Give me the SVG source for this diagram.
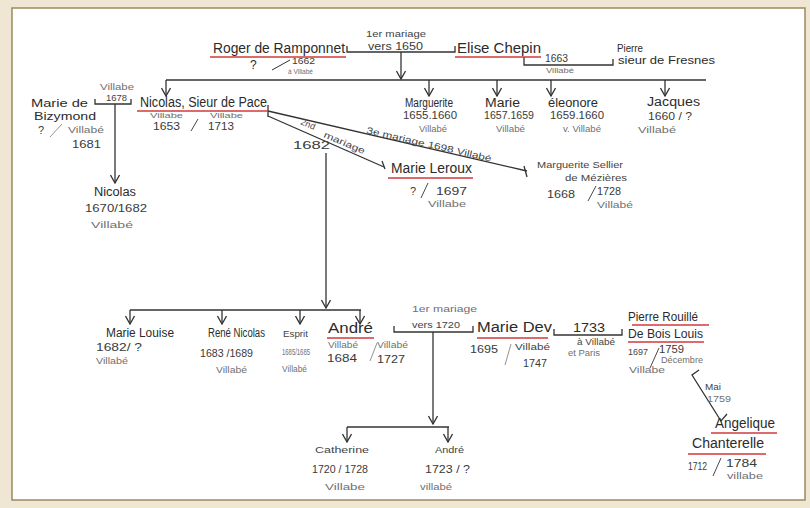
<svg xmlns="http://www.w3.org/2000/svg" width="810" height="508" viewBox="0 0 810 508">
<style>
text{font-family:"Liberation Sans","DejaVu Sans",sans-serif;fill:#2b2b2b}
.n{font-size:14px}
.m{font-size:12px}
.d{font-size:11px;fill:#3a3a3a}
.s{font-size:8.5px;fill:#707070}
.t{font-size:9px;fill:#444}
.ln{fill:none;stroke:#333;stroke-width:1.3}
.red{stroke:#d23a3a;stroke-width:1.6;fill:none}
.ar{fill:none;stroke:#333;stroke-width:1.3}
</style>
<defs>
<marker id="arr" viewBox="0 0 10 10" refX="9" refY="5" markerWidth="10" markerHeight="10" markerUnits="userSpaceOnUse" orient="auto">
<path d="M1,0.5 L9,5 L1,9.5" class="ar"/>
</marker>
</defs>
<rect x="0" y="0" width="810" height="508" fill="#efe6d4"/>
<rect x="12" y="8" width="793" height="492" fill="#ffffff" stroke="#9c8a5a" stroke-width="1.5"/>

<g id="connectors">
<polyline class="ln" points="347,46 347,52 455,52 455,46"/>
<line class="ln" x1="401" y1="52" x2="401" y2="79" marker-end="url(#arr)"/>
<polyline class="ln" points="524,57 524,65 613,65 613,59"/>
<line class="ln" x1="166" y1="80" x2="706" y2="80"/>
<line class="ln" x1="166" y1="80" x2="166" y2="96" marker-end="url(#arr)"/>
<line class="ln" x1="429" y1="80" x2="429" y2="96" marker-end="url(#arr)"/>
<line class="ln" x1="497" y1="80" x2="497" y2="96" marker-end="url(#arr)"/>
<line class="ln" x1="551" y1="80" x2="551" y2="96" marker-end="url(#arr)"/>
<line class="ln" x1="665" y1="80" x2="665" y2="96" marker-end="url(#arr)"/>
<polyline class="ln" points="95,99 95,104 131,104 131,99"/>
<line class="ln" x1="115" y1="104" x2="115" y2="183" marker-end="url(#arr)"/>
<line class="ln" x1="268" y1="105" x2="268" y2="117"/>
<line class="ln" x1="268" y1="111" x2="527" y2="171"/>
<line class="ln" x1="524" y1="166" x2="527" y2="177"/>
<line class="ln" x1="268" y1="116" x2="384" y2="167"/>
<line class="ln" x1="382" y1="161" x2="385" y2="169"/>
<line class="ln" x1="326" y1="153" x2="326" y2="308" marker-end="url(#arr)"/>
<line class="ln" x1="130" y1="310" x2="361" y2="310"/>
<line class="ln" x1="130" y1="310" x2="130" y2="324" marker-end="url(#arr)"/>
<line class="ln" x1="222" y1="310" x2="222" y2="324" marker-end="url(#arr)"/>
<line class="ln" x1="300" y1="310" x2="300" y2="324" marker-end="url(#arr)"/>
<line class="ln" x1="360" y1="310" x2="360" y2="324" marker-end="url(#arr)"/>
<polyline class="ln" points="394,326 394,332 473,332 473,326"/>
<line class="ln" x1="433" y1="332" x2="433" y2="424" marker-end="url(#arr)"/>
<line class="ln" x1="347" y1="427" x2="449" y2="427"/>
<line class="ln" x1="347" y1="427" x2="347" y2="442" marker-end="url(#arr)"/>
<line class="ln" x1="448" y1="427" x2="448" y2="442" marker-end="url(#arr)"/>
<polyline class="ln" points="554,329 554,335 622,335 622,329"/>
<polyline class="ln" points="699,370 692,375 721,421 727,414"/>
</g>

<g id="roger">
<text class="n" x="213" y="53" textLength="132" lengthAdjust="spacingAndGlyphs">Roger de Ramponnet</text>
<line class="red" x1="210" y1="57" x2="346" y2="57"/>
<text class="m" x="250" y="69">?</text>
<line class="ln" x1="272" y1="70" x2="290" y2="60" style="stroke-width:1"/>
<text class="d" x="292" y="64" style="font-size:9.5px" textLength="23" lengthAdjust="spacingAndGlyphs">1662</text>
<text class="s" x="288" y="74" style="font-size:7.5px" textLength="25" lengthAdjust="spacingAndGlyphs">à Villabé</text>
</g>

<g id="mariage1650">
<text class="t" x="366" y="37" textLength="60" lengthAdjust="spacingAndGlyphs">1er mariage</text>
<text class="d" x="368" y="50" textLength="55" lengthAdjust="spacingAndGlyphs">vers 1650</text>
</g>

<g id="elise">
<text class="n" x="457" y="53" textLength="84" lengthAdjust="spacingAndGlyphs">Elise Chepin</text>
<line class="red" x1="455" y1="57" x2="541" y2="57"/>
<text class="d" x="545" y="62" style="font-size:10px" textLength="23" lengthAdjust="spacingAndGlyphs">1663</text>
<text class="s" x="546" y="73" style="font-size:7.5px" textLength="28" lengthAdjust="spacingAndGlyphs">Villabé</text>
</g>

<g id="pierre-fresnes">
<text class="m" x="617" y="52" style="font-size:10.5px" textLength="26" lengthAdjust="spacingAndGlyphs">Pierre</text>
<text class="m" x="618" y="64" style="font-size:11px" textLength="97" lengthAdjust="spacingAndGlyphs">sieur de Fresnes</text>
</g>

<g id="marguerite">
<text class="m" x="405" y="107" textLength="48" lengthAdjust="spacingAndGlyphs">Marguerite</text>
<text class="d" x="403" y="119" textLength="54" lengthAdjust="spacingAndGlyphs">1655.1660</text>
<text class="s" x="419" y="132" textLength="28" lengthAdjust="spacingAndGlyphs">Villabé</text>
</g>

<g id="marie">
<text class="m" x="485" y="107" textLength="35" lengthAdjust="spacingAndGlyphs">Marie</text>
<text class="d" x="484" y="119" textLength="50" lengthAdjust="spacingAndGlyphs">1657.1659</text>
<text class="s" x="496" y="132" textLength="29" lengthAdjust="spacingAndGlyphs">Villabé</text>
</g>

<g id="eleonore">
<text class="m" x="548" y="107" textLength="50" lengthAdjust="spacingAndGlyphs">éleonore</text>
<text class="d" x="550" y="119" textLength="54" lengthAdjust="spacingAndGlyphs">1659.1660</text>
<text class="s" x="563" y="132" textLength="38" lengthAdjust="spacingAndGlyphs">v. Villabé</text>
</g>

<g id="jacques">
<text class="m" x="647" y="106" textLength="53" lengthAdjust="spacingAndGlyphs">Jacques</text>
<text class="d" x="648" y="120" textLength="44" lengthAdjust="spacingAndGlyphs">1660 / ?</text>
<text class="s" x="638" y="133" textLength="38" lengthAdjust="spacingAndGlyphs">Villabé</text>
</g>

<g id="mariage1678">
<text class="s" x="100" y="90" textLength="34" lengthAdjust="spacingAndGlyphs">Villabe</text>
<text class="t" x="106" y="101" textLength="21" lengthAdjust="spacingAndGlyphs">1678</text>
</g>

<g id="marie-bizymond">
<text class="m" x="31" y="107" style="font-size:11px" textLength="57" lengthAdjust="spacingAndGlyphs">Marie de</text>
<text class="m" x="34" y="120" style="font-size:11px" textLength="62" lengthAdjust="spacingAndGlyphs">Bizymond</text>
<text class="d" x="38" y="134">?</text>
<line class="ln" x1="50" y1="137" x2="62" y2="124" style="stroke-width:0.8;stroke:#777"/>
<text class="s" x="68" y="133" textLength="36" lengthAdjust="spacingAndGlyphs">Villabé</text>
<text class="d" x="72" y="148" textLength="29" lengthAdjust="spacingAndGlyphs">1681</text>
</g>

<g id="nicolas-fils">
<text class="m" x="94" y="196" textLength="42" lengthAdjust="spacingAndGlyphs">Nicolas</text>
<text class="d" x="85" y="212" textLength="62" lengthAdjust="spacingAndGlyphs">1670/1682</text>
<text class="s" x="91" y="228" textLength="42" lengthAdjust="spacingAndGlyphs">Villabé</text>
</g>

<g id="nicolas">
<text class="n" x="140" y="107" textLength="127" lengthAdjust="spacingAndGlyphs">Nicolas, Sieur de Pace</text>
<line class="red" x1="137" y1="111" x2="268" y2="111"/>
<text class="s" x="150" y="118" style="font-size:7.5px" textLength="33" lengthAdjust="spacingAndGlyphs">Villabe</text>
<text class="s" x="210" y="118" style="font-size:7.5px" textLength="33" lengthAdjust="spacingAndGlyphs">Villabe</text>
<text class="d" x="153" y="130" style="font-size:10.5px" textLength="27" lengthAdjust="spacingAndGlyphs">1653</text>
<line class="ln" x1="191" y1="131" x2="198" y2="119" style="stroke-width:0.9"/>
<text class="d" x="208" y="130" style="font-size:10.5px" textLength="26" lengthAdjust="spacingAndGlyphs">1713</text>
</g>

<g id="mariages-nicolas">
<text class="t" x="300" y="124" transform="rotate(23 300 124)">2nd</text>
<text class="t" x="323" y="137" transform="rotate(23 323 137)" textLength="44" lengthAdjust="spacingAndGlyphs">mariage</text>
<text class="d" x="293" y="149" textLength="37" lengthAdjust="spacingAndGlyphs">1682</text>
<text class="t" x="366" y="133" transform="rotate(13 366 133)" textLength="128" lengthAdjust="spacingAndGlyphs">3e mariage 1698 Villabé</text>
</g>

<g id="marie-leroux">
<text class="n" x="391" y="173" textLength="81" lengthAdjust="spacingAndGlyphs">Marie Leroux</text>
<line class="red" x1="388" y1="178" x2="473" y2="178"/>
<text class="d" x="410" y="195">?</text>
<line class="ln" x1="421" y1="198" x2="428" y2="183" style="stroke-width:0.9"/>
<text class="d" x="436" y="195" textLength="31" lengthAdjust="spacingAndGlyphs">1697</text>
<text class="s" x="428" y="207" textLength="38" lengthAdjust="spacingAndGlyphs">Villabe</text>
</g>

<g id="marguerite-sellier">
<text class="t" x="537" y="168" textLength="86" lengthAdjust="spacingAndGlyphs">Marguerite Sellier</text>
<text class="t" x="565" y="181" textLength="62" lengthAdjust="spacingAndGlyphs">de Mézières</text>
<text class="d" x="547" y="198" textLength="28" lengthAdjust="spacingAndGlyphs">1668</text>
<line class="ln" x1="588" y1="201" x2="596" y2="186" style="stroke-width:0.9"/>
<text class="d" x="597" y="195" style="font-size:10px" textLength="24" lengthAdjust="spacingAndGlyphs">1728</text>
<text class="s" x="597" y="208" textLength="36" lengthAdjust="spacingAndGlyphs">Villabé</text>
</g>

<g id="marie-louise">
<text class="m" x="106" y="337" textLength="68" lengthAdjust="spacingAndGlyphs">Marie Louise</text>
<text class="d" x="96" y="351" textLength="46" lengthAdjust="spacingAndGlyphs">1682/ ?</text>
<text class="s" x="96" y="364" textLength="32" lengthAdjust="spacingAndGlyphs">Villabé</text>
</g>

<g id="rene-nicolas">
<text class="m" x="208" y="337" textLength="57" lengthAdjust="spacingAndGlyphs">René Nicolas</text>
<text class="d" x="200" y="357" textLength="53" lengthAdjust="spacingAndGlyphs">1683 /1689</text>
<text class="s" x="216" y="373" textLength="31" lengthAdjust="spacingAndGlyphs">Villabé</text>
</g>

<g id="esprit">
<text class="t" x="283" y="337" textLength="25" lengthAdjust="spacingAndGlyphs">Esprit</text>
<text class="s" x="282" y="355" textLength="28" lengthAdjust="spacingAndGlyphs">1685/1685</text>
<text class="s" x="282" y="372" textLength="25" lengthAdjust="spacingAndGlyphs">Villabé</text>
</g>

<g id="andre">
<text class="n" x="328" y="333" textLength="45" lengthAdjust="spacingAndGlyphs">André</text>
<line class="red" x1="327" y1="338" x2="374" y2="338"/>
<text class="s" x="328" y="348" textLength="30" lengthAdjust="spacingAndGlyphs">Villabé</text>
<line class="ln" x1="370" y1="361" x2="377" y2="343" style="stroke-width:0.8;stroke:#777"/>
<text class="s" x="377" y="348" textLength="31" lengthAdjust="spacingAndGlyphs">Villabé</text>
<text class="d" x="327" y="362" textLength="30" lengthAdjust="spacingAndGlyphs">1684</text>
<text class="d" x="377" y="363" textLength="28" lengthAdjust="spacingAndGlyphs">1727</text>
</g>

<g id="mariage1720">
<text class="s" x="412" y="312" textLength="65" lengthAdjust="spacingAndGlyphs">1er mariage</text>
<text class="t" x="412" y="328" textLength="48" lengthAdjust="spacingAndGlyphs">vers 1720</text>
</g>

<g id="marie-dev">
<text class="n" x="477" y="332" textLength="75" lengthAdjust="spacingAndGlyphs">Marie Dev</text>
<line class="red" x1="477" y1="338" x2="548" y2="338"/>
<text class="d" x="470" y="353" textLength="28" lengthAdjust="spacingAndGlyphs">1695</text>
<line class="ln" x1="505" y1="365" x2="511" y2="344" style="stroke-width:0.8;stroke:#777"/>
<text class="t" x="515" y="350" textLength="35" lengthAdjust="spacingAndGlyphs">Villabé</text>
<text class="d" x="523" y="367" textLength="24" lengthAdjust="spacingAndGlyphs">1747</text>
</g>

<g id="mariage1733">
<text class="m" x="573" y="332" textLength="32" lengthAdjust="spacingAndGlyphs">1733</text>
<text class="t" x="577" y="345" textLength="38" lengthAdjust="spacingAndGlyphs">à Villabé</text>
<text class="s" x="568" y="356" textLength="32" lengthAdjust="spacingAndGlyphs">et Paris</text>
</g>

<g id="pierre-rouille">
<text class="m" x="628" y="321" textLength="70" lengthAdjust="spacingAndGlyphs">Pierre Rouillé</text>
<line class="red" x1="632" y1="325" x2="709" y2="325"/>
<text class="m" x="628" y="338" textLength="75" lengthAdjust="spacingAndGlyphs">De Bois Louis</text>
<line class="red" x1="628" y1="342" x2="704" y2="342"/>
<text class="t" x="628" y="355" textLength="20" lengthAdjust="spacingAndGlyphs">1697</text>
<line class="ln" x1="650" y1="368" x2="659" y2="348" style="stroke-width:0.9"/>
<text class="d" x="659" y="353" textLength="25" lengthAdjust="spacingAndGlyphs">1759</text>
<text class="s" x="661" y="363" textLength="42" lengthAdjust="spacingAndGlyphs">Décembre</text>
<text class="s" x="629" y="373" textLength="36" lengthAdjust="spacingAndGlyphs">Villabe</text>
</g>

<g id="mariage1759">
<text class="t" x="705" y="390" textLength="16" lengthAdjust="spacingAndGlyphs">Mai</text>
<text class="s" x="707" y="402" textLength="24" lengthAdjust="spacingAndGlyphs">1759</text>
</g>

<g id="angelique">
<text class="n" x="715" y="428" textLength="60" lengthAdjust="spacingAndGlyphs">Angelique</text>
<line class="red" x1="711" y1="433" x2="777" y2="433"/>
<text class="n" x="692" y="448" textLength="72" lengthAdjust="spacingAndGlyphs">Chanterelle</text>
<line class="red" x1="688" y1="454" x2="766" y2="454"/>
<text class="d" x="688" y="470" textLength="19" lengthAdjust="spacingAndGlyphs">1712</text>
<line class="ln" x1="713" y1="476" x2="721" y2="458" style="stroke-width:0.9"/>
<text class="d" x="726" y="467" textLength="31" lengthAdjust="spacingAndGlyphs">1784</text>
<text class="s" x="727" y="479" textLength="36" lengthAdjust="spacingAndGlyphs">villabe</text>
</g>

<g id="catherine">
<text class="t" x="315" y="453" textLength="54" lengthAdjust="spacingAndGlyphs">Catherine</text>
<text class="d" x="312" y="473" textLength="56" lengthAdjust="spacingAndGlyphs">1720 / 1728</text>
<text class="s" x="325" y="490" textLength="40" lengthAdjust="spacingAndGlyphs">Villabe</text>
</g>

<g id="andre-fils">
<text class="t" x="435" y="453" textLength="29" lengthAdjust="spacingAndGlyphs">André</text>
<text class="d" x="425" y="473" textLength="45" lengthAdjust="spacingAndGlyphs">1723 / ?</text>
<text class="s" x="420" y="490" textLength="32" lengthAdjust="spacingAndGlyphs">villabé</text>
</g>
</svg>
